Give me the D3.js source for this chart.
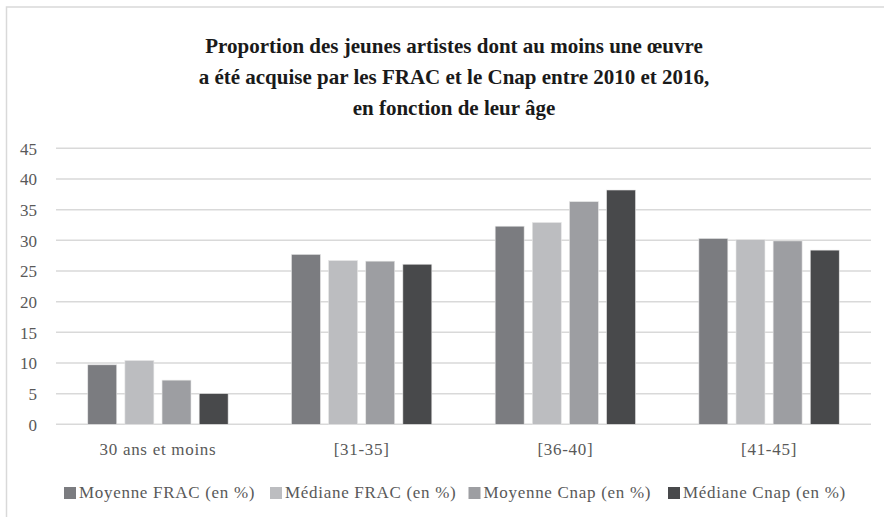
<!DOCTYPE html>
<html><head><meta charset="utf-8">
<script src="https://cdn.jsdelivr.net/npm/d3@7"></script>
<style>body{margin:0;background:#fff;} svg{display:block;} text{font-family:"Liberation Serif","DejaVu Serif",serif;}</style>
</head><body>
<svg id="chart" width="884" height="517"></svg>
<script>
const categories = ["30 ans et moins", "[31-35]", "[36-40]", "[41-45]"];
const seriesNames = ["Moyenne FRAC (en %)", "Médiane FRAC (en %)", "Moyenne Cnap (en %)", "Médiane Cnap (en %)"];
const moyenneFRAC = [9.7, 27.7, 32.3, 30.3];
const medianeFRAC = [10.4, 26.7, 32.9, 30.1];
const moyenneCnap = [7.2, 26.6, 36.3, 29.9];
const medianeCnap = [5.0, 26.1, 38.2, 28.4];
const yTicks = [0, 5, 10, 15, 20, 25, 30, 35, 40, 45];
const titleLines = ["Proportion des jeunes artistes dont au moins une œuvre",
  "a été acquise par les FRAC et le Cnap entre 2010 et 2016,",
  "en fonction de leur âge"];
const colors = ["#7b7c80", "#bcbdc0", "#9d9ea2", "#48494b"];

const series = [moyenneFRAC, medianeFRAC, moyenneCnap, medianeCnap];
const svg = d3.select("#chart");

// frame
svg.append("rect").attr("x", 6.5).attr("y", 7).attr("width", 900).attr("height", 600)
  .attr("fill", "none").attr("stroke", "#d9d9d9").attr("stroke-width", 1.5);

// title
svg.append("g").selectAll("text").data(titleLines).join("text")
  .attr("x", 454).attr("y", (d, i) => 53 + i * 31)
  .attr("text-anchor", "middle")
  .attr("font-weight", "bold").attr("font-size", 21).attr("fill", "#1a1a1a")
  .text(d => d);

const x0 = d3.scaleBand().domain(categories).range([56, 871]).paddingInner(0.311).paddingOuter(0.156);
const x1 = d3.scaleBand().domain(d3.range(4)).range([0, x0.bandwidth()]).paddingInner(0.22).paddingOuter(0);
const y = d3.scaleLinear().domain([0, 45]).range([424.3, 148.3]);

// grid
svg.append("g").selectAll("line").data(yTicks).join("line")
  .attr("x1", 56).attr("x2", 871)
  .attr("y1", d => y(d)).attr("y2", d => y(d))
  .attr("stroke", "#d9d9d9").attr("stroke-width", 1.5);

// y axis labels
const yAxis = d3.axisLeft(y).tickValues(yTicks).tickSize(0).tickPadding(0);
const ya = svg.append("g").attr("transform", "translate(37,0)").call(yAxis);
ya.select(".domain").remove();
ya.selectAll("text").attr("font-family", null).attr("font-size", 17).attr("fill", "#595959").attr("dy", "0.35em");

// bars
const groups = svg.append("g").selectAll("g").data(categories).join("g")
  .attr("transform", d => `translate(${x0(d)},0)`);
groups.selectAll("rect").data((c, ci) => series.map((s, si) => ({si, v: s[ci]}))).join("rect")
  .attr("x", d => x1(d.si)).attr("width", x1.bandwidth())
  .attr("y", d => y(d.v)).attr("height", d => y(0) - y(d.v))
  .attr("fill", d => colors[d.si]).attr("stroke", "#e6e6e6").attr("stroke-width", 0.6);

// x axis labels
const xAxis = d3.axisBottom(x0).tickSize(0).tickPadding(0);
const xa = svg.append("g").attr("transform", "translate(0,455)").call(xAxis);
xa.select(".domain").remove();
xa.selectAll("text").attr("font-family", null).attr("font-size", 17).attr("letter-spacing", 0.7)
  .attr("fill", "#595959").attr("dy", 0);

// legend
const legX = [64, 270, 468.5, 668];
const leg = svg.append("g").selectAll("g").data(seriesNames).join("g")
  .attr("transform", (d, i) => `translate(${legX[i]},0)`);
leg.append("rect").attr("x", 0).attr("y", 487).attr("width", 12).attr("height", 12)
  .attr("fill", (d, i) => colors[i]);
leg.append("text").attr("x", 15).attr("y", 498)
  .attr("font-size", 17).attr("letter-spacing", 0.7).attr("fill", "#595959").text(d => d);
</script>
</body></html>
